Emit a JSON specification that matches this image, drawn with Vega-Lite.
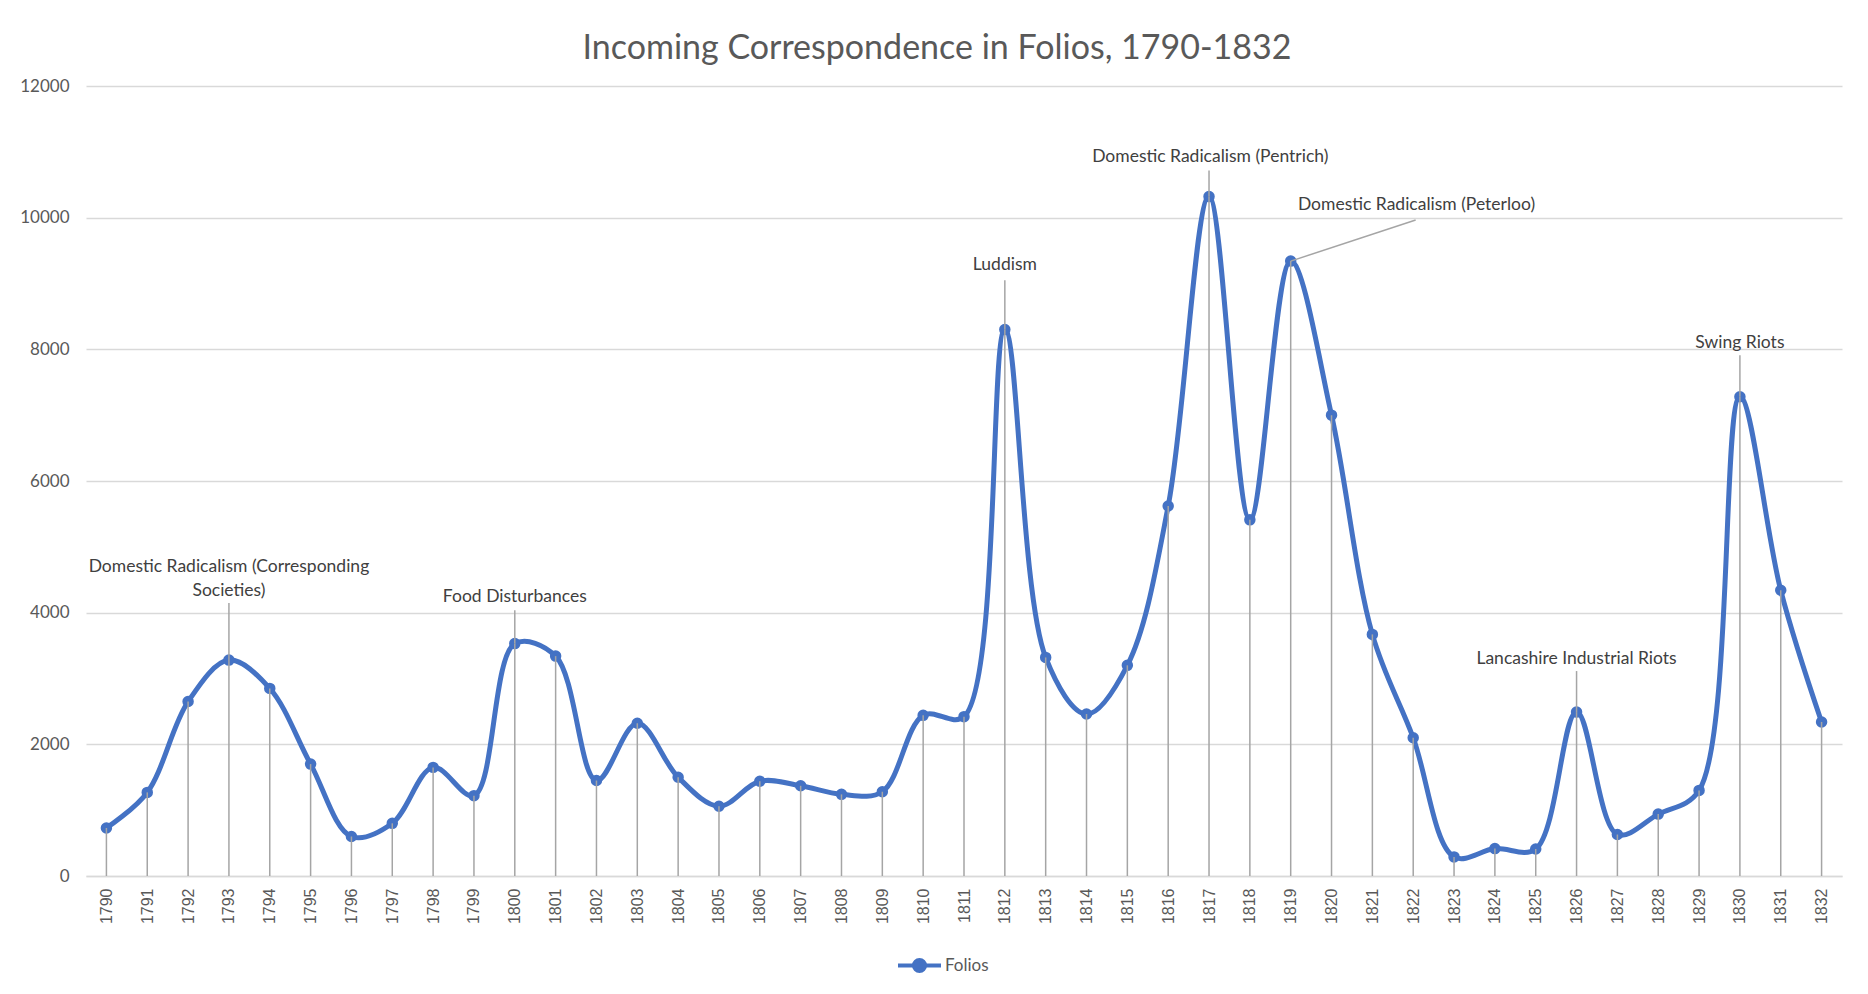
{
  "$schema": "https://vega.github.io/schema/vega-lite/v6.json",
  "autosize": "none",
  "width": 1756,
  "height": 790,
  "padding": {"left": 86, "top": 86, "right": 26, "bottom": 118},
  "background": "white",
  "title": {
    "text": "Incoming Correspondence in Folios, 1790-1832",
    "anchor": "middle",
    "frame": "group",
    "dx": -27,
    "dy": 42,
    "offset": 26,
    "baseline": "alphabetic",
    "font": "Lato",
    "fontSize": 34,
    "fontWeight": "normal",
    "color": "#595959"
  },
  "datasets": {
    "folios": [
      {"year": 1790, "folios": 730},
      {"year": 1791, "folios": 1270},
      {"year": 1792, "folios": 2650},
      {"year": 1793, "folios": 3280},
      {"year": 1794, "folios": 2850},
      {"year": 1795, "folios": 1700},
      {"year": 1796, "folios": 600},
      {"year": 1797, "folios": 800},
      {"year": 1798, "folios": 1650},
      {"year": 1799, "folios": 1220},
      {"year": 1800, "folios": 3530},
      {"year": 1801, "folios": 3340},
      {"year": 1802, "folios": 1450},
      {"year": 1803, "folios": 2320},
      {"year": 1804, "folios": 1500},
      {"year": 1805, "folios": 1060},
      {"year": 1806, "folios": 1440},
      {"year": 1807, "folios": 1370},
      {"year": 1808, "folios": 1240},
      {"year": 1809, "folios": 1280},
      {"year": 1810, "folios": 2440},
      {"year": 1811, "folios": 2420},
      {"year": 1812, "folios": 8300},
      {"year": 1813, "folios": 3320},
      {"year": 1814, "folios": 2460},
      {"year": 1815, "folios": 3200},
      {"year": 1816, "folios": 5620},
      {"year": 1817, "folios": 10320},
      {"year": 1818, "folios": 5410},
      {"year": 1819, "folios": 9340},
      {"year": 1820, "folios": 7000},
      {"year": 1821, "folios": 3670},
      {"year": 1822, "folios": 2100},
      {"year": 1823, "folios": 290},
      {"year": 1824, "folios": 416},
      {"year": 1825, "folios": 410},
      {"year": 1826, "folios": 2490},
      {"year": 1827, "folios": 630},
      {"year": 1828, "folios": 940},
      {"year": 1829, "folios": 1300},
      {"year": 1830, "folios": 7280},
      {"year": 1831, "folios": 4340},
      {"year": 1832, "folios": 2340}
    ],
    "events": [
      {"year": 1793, "folios": 3280, "labelYear": 1793, "labelValue": 4688, "leaderYear": 1793, "leaderValue": 4145, "label": "Domestic Radicalism (Corresponding\nSocieties)"},
      {"year": 1800, "folios": 3530, "labelYear": 1800, "labelValue": 4235, "leaderYear": 1800, "leaderValue": 4036, "label": "Food Disturbances"},
      {"year": 1812, "folios": 8300, "labelYear": 1812, "labelValue": 9285, "leaderYear": 1812, "leaderValue": 9050, "label": "Luddism"},
      {"year": 1817, "folios": 10320, "labelYear": 1817.03, "labelValue": 10914, "leaderYear": 1817, "leaderValue": 10715, "label": "Domestic Radicalism (Pentrich)"},
      {"year": 1819, "folios": 9340, "labelYear": 1822.08, "labelValue": 10190, "leaderYear": 1822.06, "leaderValue": 9965, "label": "Domestic Radicalism (Peterloo)"},
      {"year": 1826, "folios": 2490, "labelYear": 1826, "labelValue": 3294, "leaderYear": 1826, "leaderValue": 3113, "label": "Lancashire Industrial Riots"},
      {"year": 1830, "folios": 7280, "labelYear": 1830, "labelValue": 8090, "leaderYear": 1830, "leaderValue": 7910, "label": "Swing Riots"}
    ]
  },
  "layer": [
    {
      "data": {"name": "folios"},
      "mark": {"type": "line", "interpolate": "catmull-rom", "strokeWidth": 5, "color": "#4472c4"},
      "encoding": {
        "x": {
          "field": "year",
          "type": "quantitative",
          "scale": {"domain": [1789.5, 1832.5], "nice": false, "zero": false},
          "axis": {
            "title": null,
            "values": [1790,1791,1792,1793,1794,1795,1796,1797,1798,1799,1800,1801,1802,1803,1804,1805,1806,1807,1808,1809,1810,1811,1812,1813,1814,1815,1816,1817,1818,1819,1820,1821,1822,1823,1824,1825,1826,1827,1828,1829,1830,1831,1832],
            "format": "d",
            "labelAngle": 270,
            "labelFont": "Liberation Sans",
            "labelFontSize": 16,
            "labelColor": "#595959",
            "labelPadding": 12,
            "labelOverlap": false,
            "labelFlush": false,
            "ticks": false,
            "grid": false,
            "domain": true,
            "domainColor": "#d9d9d9",
            "domainWidth": 1.5
          }
        },
        "y": {
          "field": "folios",
          "type": "quantitative",
          "scale": {"domain": [0, 12000], "nice": false},
          "axis": {
            "title": null,
            "values": [0, 2000, 4000, 6000, 8000, 10000, 12000],
            "format": "d",
            "labelFont": "Lato",
            "labelFontSize": 17,
            "labelColor": "#595959",
            "labelPadding": 17,
            "ticks": false,
            "domain": false,
            "grid": true,
            "gridColor": "#d9d9d9",
            "gridWidth": 1.5
          }
        },
        "color": {
          "datum": "Folios",
          "type": "nominal",
          "scale": {"range": ["#4472c4"]},
          "legend": {
            "title": null,
            "orient": "none",
            "legendX": 810,
            "legendY": 856,
            "padding": 0,
            "symbolType": "M-1,0L1,0M0.26,0A0.26,0.26,0,1,1,-0.26,0A0.26,0.26,0,1,1,0.26,0Z",
            "symbolSize": 1849,
            "symbolStrokeWidth": 4,
            "symbolStrokeColor": "#4472c4",
            "symbolFillColor": "#4472c4",
            "labelFont": "Lato",
            "labelFontSize": 17,
            "labelColor": "#595959",
            "labelOffset": 2
          }
        }
      }
    },
    {
      "data": {"name": "folios"},
      "mark": {"type": "point", "filled": true, "size": 90, "opacity": 1, "color": "#4472c4", "stroke": "#4472c4", "strokeWidth": 2},
      "encoding": {
        "x": {"field": "year", "type": "quantitative"},
        "y": {"field": "folios", "type": "quantitative"}
      }
    },
    {
      "data": {"name": "folios"},
      "mark": {"type": "rule", "color": "#a5a5a5", "strokeWidth": 1.5},
      "encoding": {
        "x": {"field": "year", "type": "quantitative"},
        "y": {"field": "folios", "type": "quantitative"},
        "y2": {"datum": 0}
      }
    },
    {
      "data": {"name": "events"},
      "mark": {"type": "rule", "color": "#a5a5a5", "strokeWidth": 1.5},
      "encoding": {
        "x": {"field": "year", "type": "quantitative"},
        "x2": {"field": "leaderYear"},
        "y": {"field": "folios", "type": "quantitative"},
        "y2": {"field": "leaderValue"}
      }
    },
    {
      "data": {"name": "events"},
      "mark": {"type": "text", "font": "Lato", "fontSize": 17.5, "color": "#404040", "align": "center", "baseline": "middle", "lineBreak": "\n", "lineHeight": 24},
      "encoding": {
        "x": {"field": "labelYear", "type": "quantitative"},
        "y": {"field": "labelValue", "type": "quantitative"},
        "text": {"field": "label", "type": "nominal"}
      }
    }
  ],
  "config": {
    "view": {"stroke": null}
  }
}
